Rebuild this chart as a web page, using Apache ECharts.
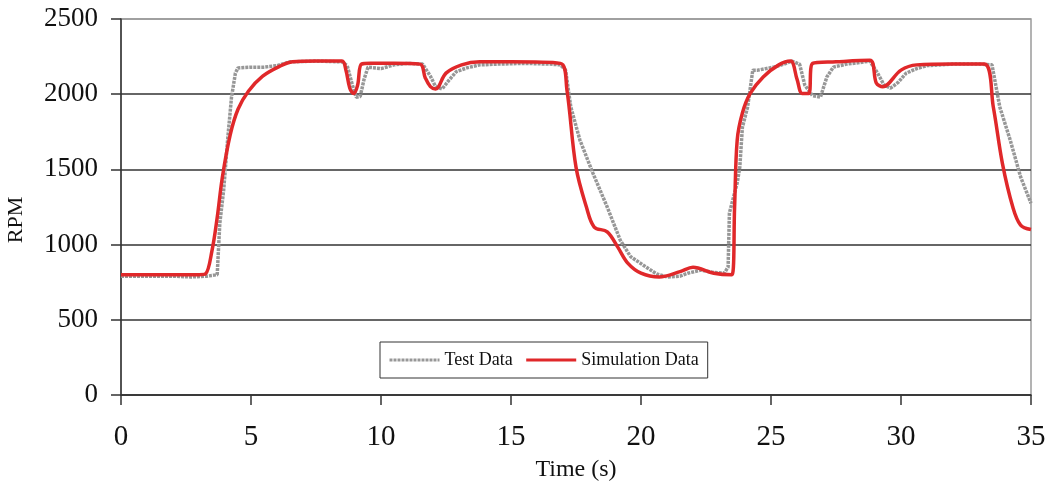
<!DOCTYPE html>
<html>
<head>
<meta charset="utf-8">
<script src="https://cdn.jsdelivr.net/npm/echarts@6/dist/echarts.min.js"></script>
<style>
  html, body { margin: 0; padding: 0; background: #fff; }
  #main { width: 1050px; height: 481px; }
</style>
</head>
<body>
<div id="main"></div>
<script>
'use strict'

// Test Data (stepped gray trace)
const testTime = [0, 1, 2, 2.7, 3.3, 3.7, 3.8, 3.95, 4.1, 4.25, 4.4, 4.5, 5, 5.5, 6.0, 6.5, 7.5, 8.5, 8.7, 8.9,
  9.05, 9.2, 9.35, 9.5, 10, 10.5, 11, 11.6, 11.9, 12.1, 12.35, 12.6, 12.9, 13.3, 13.8, 14.5, 15.5, 16.5, 16.9, 17.1,
  17.3, 17.65, 18.15, 18.7, 19.2, 19.6, 20.2, 20.6, 21, 21.5, 21.8, 22.3, 22.8, 23.2, 23.35, 23.4, 23.7, 23.8, 23.9, 24.1,
  24.3, 24.5, 25.1, 25.5, 25.8, 26.1, 26.3, 26.6, 26.9, 27.15, 27.4, 27.9, 28.4, 28.8, 29.1, 29.35, 29.6, 29.9, 30.2, 30.6,
  31, 32, 33, 33.5, 33.8, 34.2, 34.6, 35]
const testRpm = [790, 790, 790, 785, 790, 800, 1140, 1365, 1695, 1980, 2140, 2175, 2180, 2180, 2190, 2215, 2220, 2215, 2190, 2060,
  1980, 1985, 2100, 2180, 2170, 2195, 2205, 2200, 2120, 2050, 2035, 2090, 2150, 2175, 2195, 2200, 2205, 2200, 2195, 2160,
  1915, 1695, 1475, 1250, 1030, 920, 850, 805, 785, 790, 810, 830, 815, 810, 850, 1210, 1410, 1515, 1780, 1915,
  2160, 2160, 2180, 2200, 2220, 2200, 2060, 1990, 1980, 2115, 2180, 2200, 2210, 2220, 2140, 2060, 2040, 2080, 2140, 2170,
  2190, 2200, 2200, 2195, 1915, 1695, 1450, 1275]

// Simulation Data (smooth red trace)
const simTime = [0, 3.0, 3.25, 3.5, 3.7, 3.9, 4.2, 4.5, 4.9, 5.45, 6.1, 6.6, 7.5, 8.5, 8.65, 8.8, 8.95, 9.1, 9.25, 9.6,
  10.5, 11.5, 11.7, 11.9, 12.1, 12.5, 13.1, 13.8, 15, 16.9, 17.15, 17.5, 17.9, 18.2, 18.7, 19.1, 19.5, 20.0, 20.7, 21.5,
  22.0, 22.8, 23.5, 23.6, 23.7, 23.9, 24.2, 24.7, 25.3, 25.75, 26.0, 26.2, 26.45, 26.6, 27.5, 28.8, 29.05, 29.3, 30.0, 30.6,
  32, 33.2, 33.55, 33.9, 34.3, 34.6, 35]
const simRpm = [800, 800, 805, 960, 1180, 1450, 1730, 1900, 2020, 2120, 2185, 2215, 2220, 2220, 2160, 2040, 2005, 2060, 2200, 2205,
  2205, 2200, 2110, 2050, 2035, 2140, 2195, 2215, 2215, 2205, 2030, 1515, 1250, 1117, 1085, 985, 875, 810, 785, 820,
  850, 810, 800, 1250, 1695, 1875, 2005, 2115, 2195, 2220, 2100, 2005, 2005, 2205, 2215, 2225, 2075, 2050, 2160, 2195,
  2200, 2200, 1915, 1540, 1250, 1130, 1100]

const xTicks = [0, 5, 10, 15, 20, 25, 30, 35]
const yTicks = [0, 500, 1000, 1500, 2000, 2500]

const serif = '"Liberation Serif", "DejaVu Serif", serif'
const pairs = (xs, ys) => xs.map((x, i) => [x, ys[i]])

const chart = echarts.init(document.getElementById('main'))
chart.setOption({
  animation: false,
  backgroundColor: '#fff',
  grid: {
    left: 121, right: 19, top: 19, bottom: 86,
    outerBoundsMode: 'none',
    show: true, borderColor: '#9a9a9a', borderWidth: 1.5
  },
  legend: {
    left: 380, top: 342,
    padding: [9, 9, 9, 8],
    borderColor: '#333', borderWidth: 1,
    backgroundColor: '#fff',
    itemWidth: 50, itemHeight: 12, itemGap: 12,
    itemStyle: { color: 'transparent', borderColor: 'transparent', borderWidth: 0 },
    lineStyle: { width: 3 },
    textStyle: { fontFamily: serif, fontSize: 18, color: '#111' },
    data: ['Test Data', 'Simulation Data']
  },
  xAxis: {
    type: 'value',
    min: xTicks[0], max: xTicks[xTicks.length - 1], interval: 5,
    name: 'Time (s)', nameLocation: 'middle', nameGap: 63,
    nameTextStyle: { fontFamily: serif, fontSize: 24, color: '#111' },
    axisLine: { show: true, lineStyle: { color: '#333', width: 1.5 } },
    axisTick: { show: true, length: 10, lineStyle: { color: '#333', width: 1.5 } },
    axisLabel: { margin: 28, fontFamily: serif, fontSize: 29, color: '#111' },
    splitLine: { show: false }
  },
  yAxis: {
    type: 'value',
    min: yTicks[0], max: yTicks[yTicks.length - 1], interval: 500,
    name: 'RPM', nameLocation: 'middle', nameGap: 94, nameRotate: 90,
    nameTextStyle: { fontFamily: serif, fontSize: 22, color: '#111', padding: [0, 0, 0, -26] },
    axisLine: { show: true, lineStyle: { color: '#333', width: 1.5 } },
    axisTick: { show: true, length: 10, lineStyle: { color: '#333', width: 1.5 } },
    axisLabel: { margin: 23, fontFamily: serif, fontSize: 27, color: '#111', formatter: v => String(v) },
    splitLine: {
      show: true,
      lineStyle: { color: ['#333', '#333', '#333', '#333', '#333', '#9a9a9a'], width: 1.5 }
    }
  },
  series: [
    {
      name: 'Test Data',
      type: 'line',
      symbol: 'none',
      data: pairs(testTime, testRpm),
      lineStyle: { color: '#979797', width: 3.5, type: [3, 1] },
      itemStyle: { color: '#979797' },
      z: 2
    },
    {
      name: 'Simulation Data',
      type: 'line',
      smooth: 0.35,
      symbol: 'none',
      data: pairs(simTime, simRpm),
      lineStyle: { color: '#e0282a', width: 3.5 },
      itemStyle: { color: '#e0282a' },
      z: 3
    }
  ]
})
</script>
</body>
</html>
